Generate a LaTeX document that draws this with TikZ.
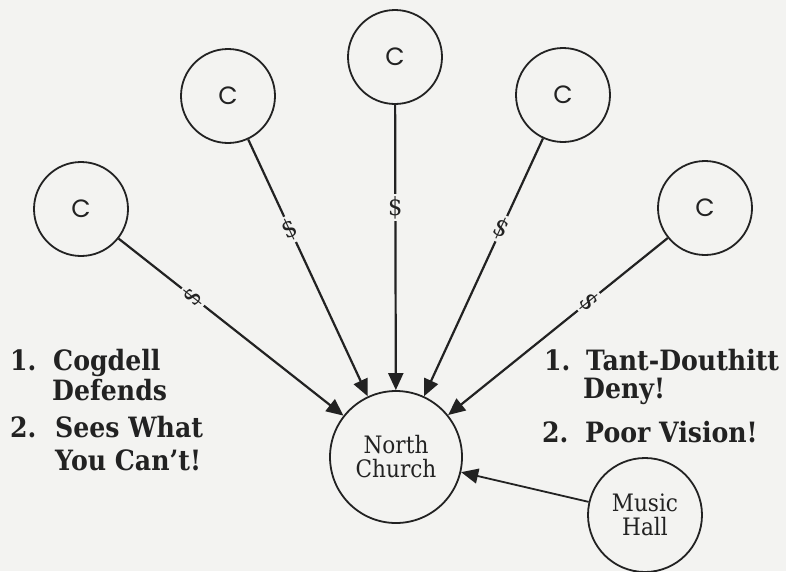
\documentclass[tikz,border=0pt]{standalone}
\usepackage{fontspec}
\usetikzlibrary{arrows.meta}
\newfontfamily\slab[FakeStretch=0.9]{DejaVu Serif}
\newfontfamily\geo{Poppins}
\definecolor{paper}{RGB}{243,243,241}
\definecolor{ink}{RGB}{34,34,34}
\begin{document}
\begin{tikzpicture}[x=1pt,y=-1pt,
  ring/.style={circle,draw=ink,line width=1.8pt,inner sep=0pt,text=ink},
  cnode/.style={ring,minimum size=94pt,font=\geo\fontsize{25}{25}\selectfont},
  bignode/.style={ring,align=center,font=\slab\fontsize{24}{24}\selectfont},
  flow/.style={draw=ink,line width=2.2pt,-{Triangle[length=17pt,width=15pt]}},
  money/.style={fill=paper,inner sep=2.5pt,text=ink,font=\slab\fontsize{25}{25}\selectfont},
  item/.style={anchor=base west,inner sep=0pt,text=ink,font=\slab\bfseries\fontsize{28}{28}\selectfont}]
\fill[paper] (0,0) rectangle (786,571);
\useasboundingbox (0,0) rectangle (786,571);
% nodes
\node[cnode] (c1) at (81,209) {C};
\node[cnode] (c2) at (228,96) {C};
\node[cnode] (c3) at (395,57) {C};
\node[cnode] (c4) at (563,95) {C};
\node[cnode] (c5) at (705,208) {C};
\node[bignode,minimum size=132pt] (nc) at (396,457) {North\\Church};
\node[bignode,minimum size=114pt] (mh) at (645,515) {Music\\Hall};
% connectors
\draw[flow] (c1) -- node[money,pos=0.33,rotate=52]{\$} (nc);
\draw[flow] (c2) -- node[money,pos=0.35,rotate=25]{\$} (nc);
\draw[flow] (c3) -- node[money,pos=0.36]{\$} (nc);
\draw[flow] (c4) -- node[money,pos=0.35,rotate=-25]{\$} (nc);
\draw[flow] (c5) -- node[money,pos=0.36,rotate=-51]{\$} (nc);
\draw[flow,line width=1.8pt] (mh) -- (nc);
% left list
\node[item] (l1n) at (10,370) {1.};
\node[item] (l1a) at (53,370) {Cogdell};
\node[item] (l1b) at (52,400) {Defends};
\node[item] (l2n) at (10,437) {2.};
\node[item] (l2a) at (55,437) {Sees What};
\node[item] (l2b) at (55,470) {You Can’t!};
% right list
\node[item] (r1n) at (544,370) {1.};
\node[item] (r1a) at (586,370) {Tant-Douthitt};
\node[item] (r1b) at (583,398) {Deny!};
\node[item] (r2n) at (542,442) {2.};
\node[item] (r2a) at (585,442) {Poor Vision!};
\end{tikzpicture}
\end{document}
